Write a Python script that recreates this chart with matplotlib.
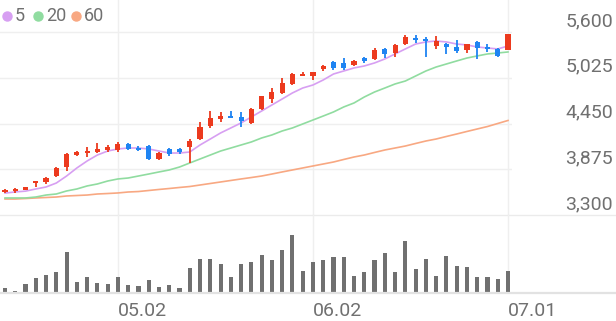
import matplotlib.pyplot as plt
import matplotlib.transforms as mtransforms
from matplotlib.lines import Line2D
import numpy as np

plt.rcParams['font.family'] = ['Roboto', 'DejaVu Sans']

opens = [3590, 3600, 3615, 3700, 3715, 3790, 3905, 4055, 4080, 4090,
         4115, 4115, 4190, 4140, 4165, 4005, 4130, 4130, 4155, 4255,
         4420, 4505, 4545, 4530, 4455, 4630, 4760, 4835, 4945, 5050,
         5050, 5135, 5225, 5210, 5185, 5275, 5260, 5385, 5335, 5450,
         5525, 5510, 5425, 5450, 5410, 5375, 5475, 5410, 5385, 5375]
highs = [3625, 3640, 3655, 3730, 3780, 3905, 4080, 4105, 4155, 4205,
         4180, 4215, 4205, 4165, 4180, 4090, 4140, 4140, 4255, 4470,
         4605, 4595, 4605, 4595, 4640, 4800, 4895, 5020, 5085, 5100,
         5100, 5185, 5235, 5275, 5250, 5285, 5400, 5400, 5450, 5565,
         5565, 5535, 5550, 5460, 5500, 5450, 5485, 5450, 5400, 5575]
lows = [3575, 3575, 3610, 3650, 3690, 3780, 3855, 4040, 4030, 4080,
        4090, 4090, 4115, 4105, 3990, 3990, 4040, 4065, 3955, 4240,
        4395, 4470, 4520, 4405, 4445, 4620, 4710, 4820, 4935, 5045,
        5000, 5110, 5120, 5120, 5175, 5210, 5250, 5275, 5285, 5435,
        5460, 5285, 5385, 5325, 5335, 5335, 5260, 5350, 5285, 5375]
closes = [3615, 3625, 3650, 3725, 3765, 3890, 4065, 4090, 4105, 4130,
          4155, 4190, 4130, 4115, 4005, 4080, 4065, 4090, 4230, 4405,
          4520, 4545, 4520, 4480, 4630, 4795, 4845, 4960, 5070, 5075,
          5100, 5175, 5150, 5150, 5235, 5235, 5375, 5325, 5435, 5535,
          5500, 5485, 5485, 5410, 5360, 5450, 5400, 5385, 5300, 5575]
volumes = [50, 23, 90, 147, 180, 213, 410, 110, 160, 103,
           90, 160, 80, 70, 130, 63, 80, 50, 253, 337,
           340, 293, 163, 290, 313, 383, 330, 430, 577, 223,
           313, 330, 356, 356, 170, 206, 326, 400, 210, 523,
           240, 343, 173, 373, 273, 260, 160, 156, 140, 216]
ma5 = [3575, 3590, 3600, 3627, 3652, 3702, 3790, 3891, 3979, 4054,
       4104, 4130, 4142, 4142, 4130, 4104, 4079, 4079, 4092, 4180,
       4255, 4331, 4394, 4457, 4532, 4607, 4683, 4758, 4834, 4896,
       4934, 4997, 5072, 5110, 5148, 5173, 5211, 5261, 5324, 5387,
       5449, 5475, 5487, 5475, 5449, 5437, 5412, 5399, 5387, 5424]
ma20 = [3514, 3514, 3514, 3526, 3551, 3564, 3602, 3627, 3665, 3690,
        3727, 3753, 3765, 3790, 3815, 3841, 3866, 3903, 3954, 4004,
        4054, 4104, 4142, 4180, 4218, 4268, 4306, 4356, 4394, 4444,
        4494, 4544, 4595, 4658, 4708, 4783, 4846, 4896, 4947, 4984,
        5047, 5110, 5160, 5198, 5236, 5273, 5299, 5324, 5336, 5349]
ma60 = [3501, 3501, 3507, 3514, 3520, 3526, 3539, 3545, 3551, 3564,
        3570, 3577, 3589, 3595, 3608, 3621, 3633, 3646, 3658, 3677,
        3696, 3715, 3734, 3753, 3771, 3790, 3815, 3841, 3866, 3891,
        3916, 3941, 3966, 3998, 4029, 4054, 4086, 4117, 4142, 4167,
        4199, 4230, 4255, 4287, 4318, 4350, 4381, 4412, 4450, 4488]
price_ticks = [3300, 3875, 4450, 5025, 5600]
date_pos = [11, 30, 49]
date_labels = ['05.02', '06.02', '07.01']

UP = '#ec3a1e'
DOWN = '#1f84f2'
MA_COLORS = {'5': '#d79ff2', '20': '#90dca0', '60': '#f8a882'}
TEXT = '#707070'
GRID = '#efefef'

W, H = 616, 321
fig = plt.figure(figsize=(W / 100, H / 100), dpi=100)

px_per_bar = 503 / 49
x0 = -5 / px_per_bar

# price panel: top of figure down to y=215px, 512px wide
ax = fig.add_axes([0, (H - 215) / H, 512 / W, 215 / H])
ax.set_xlim(x0, x0 + 512 / px_per_bar)
ylo = 3300
yhi = 3300 + 215 * (2300 / 183)
ax.set_ylim(ylo, yhi)
ax.axis('off')

# volume panel
axv = fig.add_axes([0, (H - 293) / H, 1, 78 / H])
axv.set_xlim(x0, x0 + W / px_per_bar)
axv.set_ylim(0, 780)
axv.axis('off')

for p in price_ticks[1:]:
    ax.axhline(p, color=GRID, lw=1.0, zorder=0)
axv.axhline(780, color='#ebebeb', lw=1.0, clip_on=False, zorder=0)
axv.axhline(0, color='#e2e2e2', lw=1.6, clip_on=False, zorder=3)

for d in date_pos:
    ax.axvline(d, color=GRID, lw=1.0, zorder=0)
    axv.axvline(d, color=GRID, lw=1.0, zorder=0)

idx = np.arange(len(closes))
o = np.array(opens)
c = np.array(closes)
colors = [UP if cc >= oo else DOWN for oo, cc in zip(o, c)]

ax.plot(idx, ma60, color=MA_COLORS['60'], lw=1.2, zorder=2)
ax.plot(idx, ma20, color=MA_COLORS['20'], lw=1.2, zorder=2)
ax.plot(idx, ma5, color=MA_COLORS['5'], lw=1.2, zorder=2)

ax.vlines(idx, lows, highs, colors=colors, lw=1.3, zorder=4)
body_lo = np.minimum(o, c)
body_h = np.maximum(np.abs(c - o), 14)
ax.bar(idx, body_h, bottom=body_lo, width=0.5, color=colors, zorder=5)

axv.bar(idx, volumes, width=0.4, color='#707070', zorder=2)

# price labels on the right
trans = mtransforms.blended_transform_factory(fig.transFigure, ax.transData)
trans = mtransforms.offset_copy(trans, fig=fig, y=6, units='dots')
for p in price_ticks:
    ax.text(613 / W, p, f'{p:,}', transform=trans, ha='right', va='baseline',
            fontsize=14, color=TEXT, clip_on=False)

dtrans = mtransforms.offset_copy(axv.transData, fig=fig, y=-23, units='dots')
for d, lab in zip(date_pos, date_labels):
    axv.text(d, 0, lab, transform=dtrans, ha='left', va='baseline',
             fontsize=14, color=TEXT, clip_on=False)

# legend
legend_items = [('5', 7, 15), ('20', 38, 46), ('60', 76, 84)]
for name, cx, tx in legend_items:
    fig.add_artist(Line2D([cx / W], [1 - 16 / H], marker='o', markersize=6.5,
                          color=MA_COLORS[name], lw=0, transform=fig.transFigure))
    fig.text(tx / W, 1 - 16 / H, name, ha='left', va='center', fontsize=13,
             color=TEXT)

fig.savefig('out.png', dpi=100, facecolor='white')
